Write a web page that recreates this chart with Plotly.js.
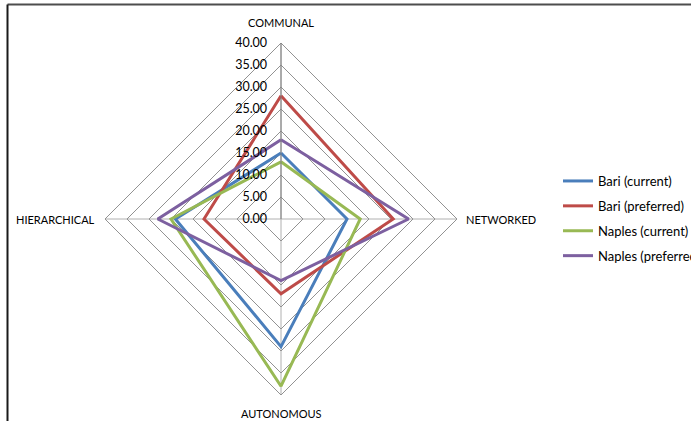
<!DOCTYPE html>
<html>
<head>
<meta charset="utf-8">
<script src="https://cdn.plot.ly/plotly-3.0.1.min.js"></script>
<style>
  html, body { margin: 0; padding: 0; background: #ffffff; }
  #chart { width: 691px; height: 421px; }
</style>
</head>
<body>
<div id="chart"></div>
<script>
// Four organisational dimensions, clockwise from the top
const dimensions = ["COMMUNAL", "NETWORKED", "AUTONOMOUS", "HIERARCHICAL"];

const seriesNames = ["Bari (current)", "Bari (preferred)", "Naples (current)", "Naples (preferred)"];
const bariCurrent = [15, 15, 29, 24];
const bariPreferred = [28, 25.5, 17, 17.5];
const naplesCurrent = [13, 18, 38, 25];
const naplesPreferred = [18, 29, 14, 28];

const radialTicks = [0, 5, 10, 15, 20, 25, 30, 35, 40];

const seriesValues = [bariCurrent, bariPreferred, naplesCurrent, naplesPreferred];
const seriesColors = ["#4A7EBB", "#BE4B48", "#98B954", "#7D60A0"];

const FONT = "Lato, 'Open Sans', sans-serif";

// close each polygon by repeating the first point
const traces = seriesValues.map((vals, i) => ({
  type: "scatterpolar",
  mode: "lines",
  name: seriesNames[i],
  r: vals.concat([vals[0]]),
  theta: dimensions.concat([dimensions[0]]),
  line: { color: seriesColors[i], width: 3 },
  legendgroup: "g" + i,
  hoverinfo: "skip"
}));

const W = 691, H = 421;
const cx = 281, cy = 219, R = 176;

// dimension labels sit just outside each spoke tip
const labelSpots = [
  { x: cx, y: 22.5, xanchor: "center" },
  { x: 464, y: 219.5, xanchor: "left" },
  { x: cx, y: 413, xanchor: "center" },
  { x: 97, y: 219.5, xanchor: "right" }
];
const dimensionLabels = dimensions.map((name, i) => ({
  text: name,
  xref: "paper", yref: "paper",
  x: labelSpots[i].x / W,
  y: 1 - labelSpots[i].y / H,
  xanchor: labelSpots[i].xanchor,
  yanchor: "middle",
  showarrow: false,
  font: { family: FONT, size: 11, color: "#000000" }
}));

const layout = {
  width: W,
  height: H,
  margin: { l: 0, r: 0, t: 0, b: 0, autoexpand: false },
  paper_bgcolor: "#ffffff",
  plot_bgcolor: "#ffffff",
  font: { family: FONT, size: 12, color: "#000000" },
  showlegend: true,
  legend: {
    x: 558 / W,
    y: 1 - 166 / H,
    xanchor: "left",
    yanchor: "top",
    traceorder: "grouped",
    tracegroupgap: 5,
    font: { family: FONT, size: 13, color: "#000000" },
    bgcolor: "rgba(0,0,0,0)"
  },
  polar: {
    domain: {
      x: [(cx - R) / W, (cx + R) / W],
      y: [(H - cy - R) / H, (H - cy + R) / H]
    },
    bgcolor: "#ffffff",
    gridshape: "linear",
    radialaxis: {
      range: [0, 40],
      tickvals: radialTicks,
      ticktext: radialTicks.map(v => v.toFixed(2)),
      angle: 90,
      side: "counterclockwise",
      tickangle: 90,
      showline: true,
      linecolor: "#7F7F7F",
      linewidth: 1,
      gridcolor: "#929292",
      gridwidth: 1,
      ticks: "outside",
      ticklen: 9,
      tickcolor: "rgba(255,255,255,0)",
      tickfont: { family: FONT, size: 12.5, color: "#000000" }
    },
    angularaxis: {
      categoryarray: dimensions,
      rotation: 90,
      direction: "clockwise",
      showline: true,
      linecolor: "#929292",
      linewidth: 1,
      gridcolor: "#B0B0B0",
      gridwidth: 1,
      ticks: "",
      showticklabels: false
    }
  },
  annotations: dimensionLabels,
  shapes: [
    { type: "line", xref: "paper", yref: "paper",
      x0: 7.5 / W, x1: 1, y0: 1 - 4.5 / H, y1: 1 - 4.5 / H,
      line: { color: "#4D4D4D", width: 2 } },
    { type: "line", xref: "paper", yref: "paper",
      x0: 7.5 / W, x1: 7.5 / W, y0: 0, y1: 1 - 4.5 / H,
      line: { color: "#1A1A1A", width: 2 } }
  ]
};

Plotly.newPlot("chart", traces, layout, { displayModeBar: false, staticPlot: true });
</script>
</body>
</html>
